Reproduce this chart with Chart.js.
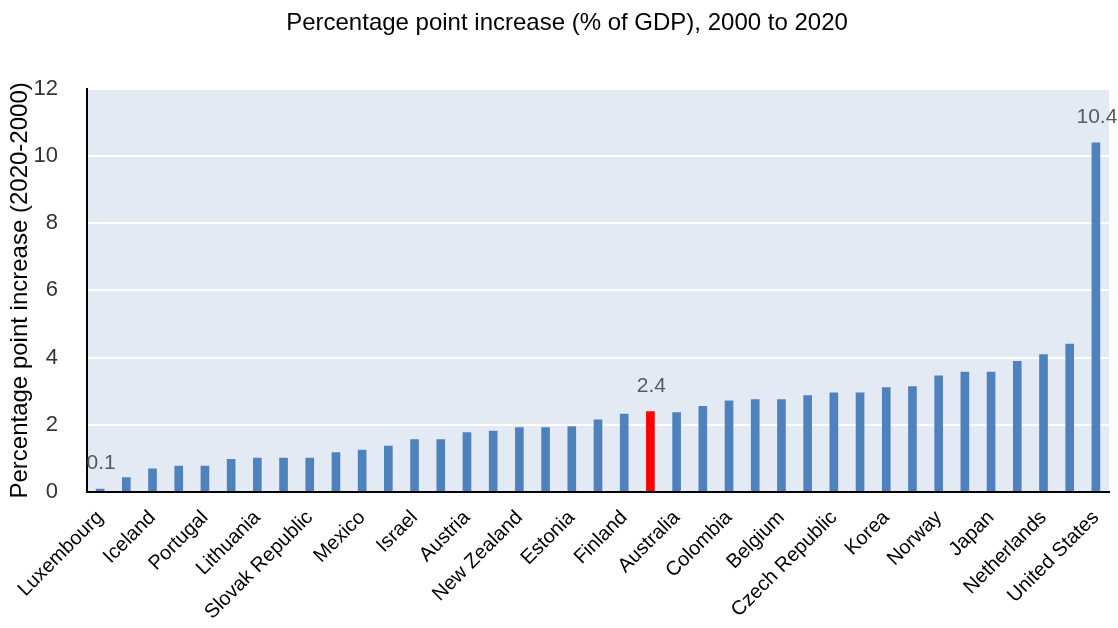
<!DOCTYPE html>
<html>
<head>
<meta charset="utf-8">
<title>Percentage point increase (% of GDP), 2000 to 2020</title>
<script src="https://cdn.jsdelivr.net/npm/chart.js@4.4.0/dist/chart.umd.min.js"></script>
<style>
  html, body { margin: 0; padding: 0; background: #ffffff; }
  #wrap { position: relative; width: 1118px; height: 628px; }
</style>
</head>
<body>
<div id="wrap"><canvas id="gdpChart" width="1118" height="628"></canvas></div>
<script>
// 国家（已排序），只显示隔一个的标签
const countries = [
  'Luxembourg', 'Ireland', 'Iceland', 'Latvia', 'Portugal', 'Hungary', 'Lithuania', 'Poland',
  'Slovak Republic', 'Costa Rica', 'Mexico', 'Turkey', 'Israel', 'Slovenia', 'Austria',
  'Switzerland', 'New Zealand', 'Chile', 'Estonia', 'Greece', 'Finland', 'OECD', 'Australia',
  'Sweden', 'Colombia', 'Germany', 'Belgium', 'Spain', 'Czech Republic', 'Italy', 'Korea',
  'Denmark', 'Norway', 'Canada', 'Japan', 'United Kingdom', 'Netherlands', 'France', 'United States'
];

// 百分点变化 (2020-2000)
const increase = [
  0.1, 0.44, 0.7, 0.78, 0.78, 0.98, 1.02, 1.02,
  1.02, 1.18, 1.26, 1.38, 1.57, 1.57, 1.78,
  1.82, 1.93, 1.93, 1.96, 2.16, 2.33, 2.4, 2.37,
  2.56, 2.72, 2.76, 2.76, 2.88, 2.96, 2.96, 3.12,
  3.15, 3.47, 3.58, 3.58, 3.9, 4.1, 4.41, 10.4
];

// 显示数值标签的类别
const labelledCountries = ['Luxembourg', 'OECD', 'United States'];
const highlightCountry = 'OECD';

const yTicks = [0, 2, 4, 6, 8, 10, 12];

const FONT = '"Liberation Sans", Arial, sans-serif';

// 绘图区背景
const plotBackground = {
  id: 'plotBackground',
  beforeDraw: (chart) => {
    const { ctx, chartArea } = chart;
    ctx.save();
    ctx.fillStyle = '#E4EAF3';
    ctx.fillRect(chartArea.left, chartArea.top, chartArea.right - chartArea.left, chartArea.bottom - chartArea.top);
    ctx.restore();
  }
};

// 柱顶数值
const valueLabels = {
  id: 'valueLabels',
  afterDatasetsDraw: (chart) => {
    const { ctx } = chart;
    const meta = chart.getDatasetMeta(0);
    ctx.save();
    ctx.font = '21px ' + FONT;
    ctx.fillStyle = '#595959';
    ctx.textAlign = 'center';
    ctx.textBaseline = 'bottom';
    countries.forEach((c, i) => {
      if (!labelledCountries.includes(c)) return;
      const bar = meta.data[i];
      ctx.fillText(increase[i].toFixed(1), bar.x + 1, bar.y - 15);
    });
    ctx.restore();
  }
};

const canvas = document.getElementById('gdpChart');

window.gdpChartInstance = new Chart(canvas.getContext('2d'), {
  type: 'bar',
  data: {
    labels: countries,
    datasets: [{
      data: increase,
      backgroundColor: countries.map(c => c === highlightCountry ? '#FF0000' : '#4F81BD'),
      borderWidth: 0,
      barPercentage: 0.33,
      categoryPercentage: 1.0
    }]
  },
  options: {
    responsive: false,
    animation: false,
    // 左边距让标题居中到参考位置，y 轴宽度相应缩小
    layout: { padding: { top: 0, right: 9, bottom: 0, left: 25 } },
    plugins: {
      legend: { display: false },
      tooltip: { enabled: false },
      title: {
        display: true,
        text: 'Percentage point increase (% of GDP), 2000 to 2020',
        color: '#000000',
        font: { family: FONT, size: 24, weight: 'normal', lineHeight: 1.2 },
        padding: { top: 9, bottom: 51 }
      }
    },
    scales: {
      x: {
        grid: { display: false, drawTicks: false },
        border: { display: true, color: '#000000', width: 2 },
        ticks: {
          autoSkip: false,
          maxRotation: 45,
          minRotation: 45,
          padding: 14,
          color: '#000000',
          font: { family: FONT, size: 20 },
          callback: function(value, index) {
            return index % 2 === 0 ? countries[index] : '';
          }
        },
        afterFit: (scale) => {
          scale.height = 136;
          scale.paddingLeft = 0;
          scale.paddingRight = 0;
        }
      },
      y: {
        min: 0,
        max: 12,
        afterBuildTicks: (scale) => { scale.ticks = yTicks.map(v => ({ value: v })); },
        grid: { color: '#FFFFFF', lineWidth: 2, drawTicks: false },
        border: { display: true, color: '#000000', width: 2 },
        ticks: {
          padding: 29,
          color: '#333333',
          font: { family: FONT, size: 22 }
        },
        title: {
          display: true,
          text: 'Percentage point increase (2020-2000)',
          color: '#000000',
          font: { family: FONT, size: 24, lineHeight: 1 },
          padding: { top: -17, bottom: 0 }
        },
        afterFit: (scale) => { scale.width = 62; }
      }
    }
  },
  plugins: [plotBackground, valueLabels]
});
</script>
</body>
</html>
